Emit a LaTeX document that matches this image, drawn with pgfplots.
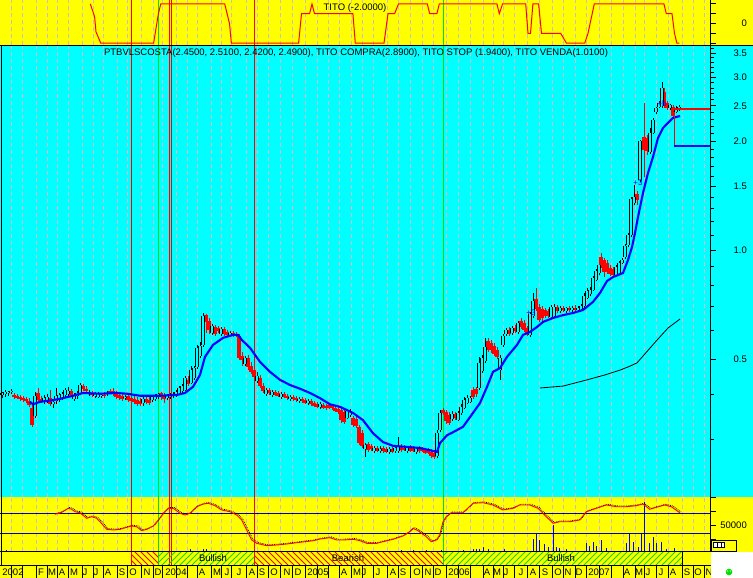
\documentclass[border=0pt]{standalone}
\usepackage{fontspec}
\setmainfont{Liberation Sans}
\usepackage{pgfplots}
\pgfplotsset{compat=1.18}

\definecolor{cy}{RGB}{0,255,255}
\definecolor{ye}{RGB}{255,255,0}
\definecolor{gr}{RGB}{0,225,0}
\definecolor{gridc}{RGB}{205,188,200}
\definecolor{navy}{RGB}{0,0,150}
\definecolor{mablue}{RGB}{0,0,255}
\newcommand\fs{\fontsize{9.5}{11}\selectfont}

% candle accumulator: x open high low close
\def\upw{}\def\dnw{}\def\upb{}\def\dnb{}
\newcommand\C[5]{%
  \ifdim #5pt<#2pt
    \xdef\dnw{\dnw(#1,#4)(#1,#3)(#1,nan)}%
    \xdef\dnb{\dnb(#1,#2)(#1,#5)(#1,nan)}%
  \else
    \xdef\upw{\upw(#1,#4)(#1,#3)(#1,nan)}%
    \xdef\upb{\upb(#1,#2)(#1,#5)(#1,nan)}%
  \fi}

\C{2}{0.398}{0.406}{0.390}{0.403}\C{5}{0.401}{0.411}{0.393}{0.406}
\C{8}{0.403}{0.408}{0.396}{0.406}\C{11}{0.406}{0.414}{0.401}{0.408}
\C{14}{0.398}{0.403}{0.388}{0.393}\C{17}{0.396}{0.401}{0.388}{0.390}
\C{20}{0.393}{0.398}{0.383}{0.388}\C{23}{0.390}{0.396}{0.380}{0.385}
\C{26}{0.388}{0.393}{0.378}{0.383}\C{29}{0.383}{0.390}{0.369}{0.373}
\C{32}{0.366}{0.375}{0.325}{0.329}\C{35}{0.348}{0.406}{0.344}{0.396}
\C{38}{0.403}{0.416}{0.383}{0.385}\C{41}{0.388}{0.396}{0.378}{0.383}
\C{44}{0.380}{0.398}{0.375}{0.390}\C{47}{0.385}{0.401}{0.378}{0.393}
\C{50}{0.390}{0.411}{0.371}{0.375}\C{53}{0.375}{0.385}{0.366}{0.380}
\C{56}{0.383}{0.416}{0.375}{0.396}\C{59}{0.385}{0.403}{0.380}{0.398}
\C{62}{0.393}{0.406}{0.385}{0.401}\C{65}{0.398}{0.416}{0.393}{0.411}
\C{68}{0.401}{0.419}{0.393}{0.408}\C{71}{0.408}{0.414}{0.393}{0.398}
\C{74}{0.388}{0.403}{0.383}{0.398}\C{77}{0.396}{0.408}{0.388}{0.403}
\C{80}{0.403}{0.430}{0.398}{0.424}\C{83}{0.421}{0.427}{0.408}{0.414}
\C{86}{0.414}{0.421}{0.406}{0.408}\C{89}{0.401}{0.411}{0.396}{0.406}
\C{92}{0.403}{0.408}{0.393}{0.398}\C{95}{0.396}{0.406}{0.390}{0.401}
\C{98}{0.393}{0.406}{0.390}{0.401}\C{101}{0.396}{0.403}{0.390}{0.398}
\C{104}{0.398}{0.406}{0.390}{0.396}\C{107}{0.401}{0.408}{0.396}{0.403}
\C{110}{0.408}{0.414}{0.401}{0.403}\C{113}{0.408}{0.416}{0.396}{0.401}
\C{116}{0.401}{0.408}{0.388}{0.393}\C{119}{0.398}{0.403}{0.385}{0.390}
\C{122}{0.396}{0.403}{0.383}{0.388}\C{125}{0.390}{0.398}{0.385}{0.393}
\C{128}{0.396}{0.401}{0.380}{0.385}\C{131}{0.390}{0.398}{0.378}{0.383}
\C{134}{0.388}{0.396}{0.375}{0.380}\C{137}{0.385}{0.393}{0.371}{0.375}
\C{140}{0.383}{0.390}{0.371}{0.375}\C{143}{0.378}{0.393}{0.371}{0.388}
\C{146}{0.388}{0.396}{0.375}{0.380}\C{149}{0.385}{0.393}{0.373}{0.378}
\C{152}{0.385}{0.398}{0.380}{0.396}\C{155}{0.388}{0.401}{0.383}{0.396}
\C{158}{0.396}{0.403}{0.388}{0.401}\C{161}{0.403}{0.406}{0.385}{0.393}
\C{164}{0.398}{0.403}{0.378}{0.388}\C{167}{0.390}{0.401}{0.385}{0.396}
\C{170}{0.393}{0.403}{0.388}{0.401}\C{173}{0.396}{0.406}{0.390}{0.401}
\C{176}{0.398}{0.411}{0.393}{0.406}\C{179}{0.403}{0.421}{0.398}{0.416}
\C{182}{0.408}{0.427}{0.403}{0.421}\C{185}{0.411}{0.449}{0.408}{0.443}
\C{188}{0.438}{0.449}{0.421}{0.427}\C{191}{0.430}{0.478}{0.427}{0.466}
\C{194}{0.443}{0.478}{0.438}{0.472}\C{197}{0.475}{0.547}{0.469}{0.537}
\C{200}{0.510}{0.557}{0.504}{0.543}\C{203}{0.547}{0.670}{0.540}{0.657}
\C{206}{0.661}{0.666}{0.590}{0.633}\C{209}{0.637}{0.649}{0.586}{0.601}
\C{212}{0.590}{0.625}{0.583}{0.617}\C{215}{0.613}{0.621}{0.579}{0.586}
\C{218}{0.609}{0.617}{0.590}{0.597}\C{221}{0.586}{0.613}{0.579}{0.605}
\C{224}{0.605}{0.613}{0.579}{0.586}\C{227}{0.594}{0.601}{0.579}{0.583}
\C{230}{0.583}{0.597}{0.575}{0.590}\C{233}{0.590}{0.597}{0.575}{0.583}
\C{236}{0.586}{0.594}{0.575}{0.579}\C{239}{0.579}{0.586}{0.497}{0.504}
\C{242}{0.510}{0.523}{0.478}{0.497}\C{245}{0.485}{0.510}{0.478}{0.504}
\C{248}{0.504}{0.513}{0.466}{0.475}\C{251}{0.478}{0.491}{0.455}{0.461}
\C{254}{0.466}{0.478}{0.438}{0.446}\C{257}{0.435}{0.461}{0.430}{0.449}
\C{260}{0.443}{0.452}{0.416}{0.421}\C{263}{0.421}{0.430}{0.403}{0.408}
\C{266}{0.401}{0.416}{0.396}{0.411}\C{269}{0.411}{0.416}{0.398}{0.403}
\C{272}{0.398}{0.411}{0.393}{0.406}\C{275}{0.406}{0.411}{0.396}{0.398}
\C{278}{0.403}{0.408}{0.393}{0.396}\C{281}{0.393}{0.406}{0.388}{0.401}
\C{284}{0.401}{0.406}{0.390}{0.393}\C{287}{0.396}{0.401}{0.385}{0.390}
\C{290}{0.388}{0.398}{0.383}{0.393}\C{293}{0.393}{0.398}{0.383}{0.388}
\C{296}{0.390}{0.396}{0.380}{0.385}\C{299}{0.383}{0.393}{0.378}{0.388}
\C{302}{0.388}{0.393}{0.378}{0.383}\C{305}{0.385}{0.390}{0.375}{0.378}
\C{308}{0.378}{0.388}{0.373}{0.383}\C{311}{0.383}{0.388}{0.371}{0.375}
\C{314}{0.378}{0.383}{0.369}{0.371}\C{317}{0.375}{0.380}{0.366}{0.369}
\C{320}{0.369}{0.380}{0.364}{0.375}\C{323}{0.373}{0.378}{0.364}{0.366}
\C{326}{0.371}{0.375}{0.362}{0.366}\C{329}{0.373}{0.378}{0.364}{0.366}
\C{332}{0.371}{0.375}{0.362}{0.366}\C{335}{0.366}{0.371}{0.357}{0.359}
\C{338}{0.364}{0.369}{0.353}{0.357}\C{341}{0.362}{0.366}{0.333}{0.339}
\C{344}{0.357}{0.362}{0.331}{0.335}\C{347}{0.344}{0.364}{0.342}{0.359}
\C{350}{0.350}{0.364}{0.346}{0.357}\C{353}{0.344}{0.348}{0.325}{0.329}
\C{356}{0.342}{0.346}{0.323}{0.327}\C{359}{0.325}{0.329}{0.289}{0.293}
\C{362}{0.312}{0.318}{0.284}{0.288}\C{365}{0.282}{0.293}{0.268}{0.289}
\C{368}{0.291}{0.295}{0.277}{0.280}\C{371}{0.288}{0.291}{0.279}{0.282}
\C{374}{0.279}{0.288}{0.275}{0.284}\C{377}{0.284}{0.288}{0.277}{0.279}
\C{380}{0.279}{0.288}{0.275}{0.282}\C{383}{0.284}{0.288}{0.275}{0.279}
\C{386}{0.282}{0.286}{0.275}{0.277}\C{389}{0.277}{0.286}{0.273}{0.282}
\C{392}{0.282}{0.286}{0.275}{0.277}\C{395}{0.279}{0.288}{0.275}{0.284}
\C{398}{0.279}{0.305}{0.275}{0.286}\C{401}{0.286}{0.291}{0.277}{0.280}
\C{404}{0.284}{0.289}{0.279}{0.280}\C{407}{0.279}{0.288}{0.275}{0.284}
\C{410}{0.284}{0.289}{0.277}{0.279}\C{413}{0.284}{0.288}{0.277}{0.279}
\C{416}{0.277}{0.286}{0.273}{0.282}\C{419}{0.282}{0.288}{0.275}{0.279}
\C{422}{0.282}{0.286}{0.277}{0.279}\C{425}{0.280}{0.284}{0.273}{0.275}
\C{428}{0.280}{0.284}{0.273}{0.275}\C{431}{0.277}{0.282}{0.266}{0.270}
\C{434}{0.275}{0.280}{0.265}{0.268}\C{437}{0.270}{0.318}{0.266}{0.312}
\C{440}{0.318}{0.362}{0.314}{0.355}\C{443}{0.362}{0.366}{0.350}{0.355}
\C{446}{0.357}{0.362}{0.331}{0.337}\C{449}{0.350}{0.357}{0.329}{0.333}
\C{452}{0.342}{0.359}{0.337}{0.353}\C{455}{0.353}{0.357}{0.339}{0.344}
\C{458}{0.339}{0.359}{0.337}{0.355}\C{461}{0.355}{0.375}{0.350}{0.369}
\C{464}{0.366}{0.393}{0.364}{0.385}\C{467}{0.378}{0.398}{0.375}{0.390}
\C{470}{0.380}{0.396}{0.378}{0.390}\C{473}{0.411}{0.419}{0.388}{0.393}
\C{476}{0.414}{0.419}{0.393}{0.401}\C{479}{0.416}{0.507}{0.411}{0.488}
\C{482}{0.463}{0.513}{0.458}{0.504}\C{485}{0.494}{0.572}{0.488}{0.540}
\C{488}{0.561}{0.572}{0.523}{0.530}\C{491}{0.554}{0.564}{0.520}{0.530}
\C{494}{0.543}{0.554}{0.510}{0.517}\C{497}{0.530}{0.540}{0.500}{0.507}
\C{500}{0.466}{0.513}{0.438}{0.504}\C{503}{0.547}{0.586}{0.540}{0.579}
\C{506}{0.586}{0.609}{0.579}{0.601}\C{509}{0.601}{0.613}{0.579}{0.586}
\C{512}{0.590}{0.617}{0.583}{0.609}\C{515}{0.609}{0.621}{0.590}{0.597}
\C{518}{0.594}{0.637}{0.586}{0.629}\C{521}{0.637}{0.649}{0.605}{0.613}
\C{524}{0.629}{0.641}{0.594}{0.601}\C{527}{0.609}{0.617}{0.579}{0.586}
\C{530}{0.583}{0.674}{0.575}{0.666}\C{533}{0.657}{0.761}{0.649}{0.723}
\C{536}{0.732}{0.785}{0.679}{0.688}\C{539}{0.696}{0.710}{0.633}{0.641}
\C{542}{0.688}{0.701}{0.625}{0.649}\C{545}{0.683}{0.692}{0.649}{0.657}
\C{548}{0.679}{0.688}{0.649}{0.657}\C{551}{0.653}{0.705}{0.645}{0.696}
\C{554}{0.657}{0.710}{0.649}{0.696}\C{557}{0.696}{0.705}{0.670}{0.679}
\C{560}{0.679}{0.701}{0.670}{0.692}\C{563}{0.692}{0.701}{0.674}{0.683}
\C{566}{0.679}{0.696}{0.670}{0.692}\C{569}{0.692}{0.701}{0.674}{0.683}
\C{572}{0.683}{0.701}{0.674}{0.692}\C{575}{0.692}{0.705}{0.679}{0.683}
\C{578}{0.683}{0.701}{0.674}{0.692}\C{581}{0.688}{0.710}{0.679}{0.701}
\C{584}{0.701}{0.761}{0.692}{0.746}\C{587}{0.737}{0.785}{0.732}{0.770}
\C{590}{0.756}{0.790}{0.746}{0.775}\C{593}{0.775}{0.848}{0.770}{0.837}
\C{596}{0.826}{0.886}{0.821}{0.875}\C{599}{0.864}{0.927}{0.853}{0.909}
\C{601}{0.956}{0.981}{0.892}{0.903}\C{604}{0.938}{0.950}{0.842}{0.870}
\C{607}{0.921}{0.938}{0.859}{0.870}\C{610}{0.892}{0.909}{0.848}{0.859}
\C{613}{0.886}{0.898}{0.842}{0.853}\C{616}{0.853}{0.909}{0.842}{0.898}
\C{619}{0.864}{0.933}{0.853}{0.921}\C{622}{0.921}{0.950}{0.915}{0.938}
\C{625}{0.956}{1.039}{0.944}{1.026}\C{628}{1.032}{1.114}{1.019}{1.100}
\C{631}{1.100}{1.401}{1.086}{1.383}\C{634}{1.348}{1.512}{1.331}{1.401}
\C{637}{1.428}{1.456}{1.331}{1.374}\C{640}{1.561}{2.013}{1.541}{2.000}
\C{644}{2.052}{2.547}{1.591}{1.889}\C{647}{2.039}{2.078}{1.830}{1.877}
\C{650}{1.865}{2.172}{1.842}{2.105}\C{653}{2.105}{2.315}{2.091}{2.286}
\C{656}{2.405}{2.483}{2.375}{2.467}\C{659}{2.483}{2.579}{2.467}{2.547}
\C{662}{2.499}{2.911}{2.467}{2.801}\C{664}{2.731}{2.801}{2.467}{2.499}
\C{667}{2.547}{2.579}{2.436}{2.467}\C{670}{2.467}{2.531}{2.436}{2.515}
\C{673}{2.483}{2.515}{2.315}{2.345}\C{676}{2.405}{2.499}{2.390}{2.467}
\C{679}{2.450}{2.510}{2.420}{2.490}

\pgfplotsset{
 panel/.style={scale only axis, width=710pt, xmin=0, xmax=710,
  axis y line*=right, axis x line*=bottom,
  x axis line style={draw=none},
  xtick={11.7,22.7,36.7,47.7,57.3,68.3,82.7,93.3,103.3,117.3,127.7,141.7,153.3,
    162.7,176.7,187.7,197.7,211.7,221.7,231.7,246,257,268,280,292,
    305,317,328,339,351,362,373,387,398,410,422,433,
    446,458,470,483,493,503,514,527,539,552,563,575,
    586,599,611,623,635,644,656,668,682,693,704},
  xticklabels={}, x tick style={draw=none}, scaled y ticks=false,
  xmajorgrids, major x grid style={gridc, dash pattern=on 4pt off 3pt, line width=0.9pt},
  y axis line style={line width=0.9pt,-}, tick align=outside,
  y tick style={black, line width=0.8pt},
  major tick length=6pt, minor tick length=4pt,
  yticklabel style={font=\fs, anchor=east, inner sep=0pt, xshift=31pt},
 }
}

\begin{document}
\begin{tikzpicture}[x=1pt,y=1pt]
\useasboundingbox (0,0) rectangle (753,-578);
\fill[ye] (0,0) rectangle (753,-578);
\fill[cy] (0,-46) rectangle (753,-497);
% signal lines
\foreach \xx/\sc in {131.5/red,158.5/gr,169.5/red,171.5/red,254.5/red,443.5/gr}
  \draw[color=\sc, line width=1pt] (\xx,0) -- (\xx,-565);
% band hatching
\begin{scope}
\clip (131.7,-551) rectangle (158.3,-565);
\foreach \k in {116,122,...,160} \draw[red, line width=0.8pt] (\k,-551) -- ++(14,-14);
\end{scope}
\begin{scope}
\clip (254,-551) rectangle (443,-565);
\foreach \k in {238,244,...,446} \draw[red, line width=0.8pt] (\k,-551) -- ++(14,-14);
\end{scope}
\begin{scope}
\clip (158.3,-551) rectangle (254,-565);
\foreach \k in {144,150,...,256} \draw[gr, line width=0.8pt] (\k,-565) -- ++(14,14);
\end{scope}
\begin{scope}
\clip (443,-551) rectangle (682,-565);
\foreach \k in {428,434,...,684} \draw[gr, line width=0.8pt] (\k,-565) -- ++(14,14);
\end{scope}

% ---- top panel: TITO
\begin{axis}[panel, at={(0pt,0pt)}, anchor=north west, height=45.5pt,
  ymin=-2.23, ymax=2.39, ytick={-2,-1,0,1,2}, yticklabels={{},{},0,{},{}}]
\addplot[red, line width=1pt] coordinates {
(90.3,2) (94.6,0.7) (96,-0.85) (100.8,-2) (153.6,-2) (158.4,1) (160.8,2)
(224.7,2) (229.5,0) (231.4,-2) (298.6,-2) (301.5,1) (309.6,1) (312,2) (314.5,1)
(352.9,1) (355.3,-2) (384,-2) (388,1) (394.6,1) (398.5,2) (427.3,2) (429.7,1)
(436.9,1) (439.3,2) (496.9,2) (499.3,1) (502.6,2) (525.7,2) (528,-1) (530.5,-1)
(532.9,2) (538.6,2) (541.5,-1) (560.7,-1) (566.5,-2) (584.7,-2) (588,-1) (594.3,2)
(663.9,2) (666.3,1) (672,1) (674.5,-1) (676.9,-2) (679.3,-2)};
\end{axis}

% ---- main price panel
\begin{axis}[panel, at={(0pt,-46pt)}, anchor=north west, height=451pt,
  ymode=log, ymin=0.208, ymax=3.658,
  ytick={0.5,1,1.5,2,2.5,3,3.5}, yticklabels={0.5,1.0,1.5,2.0,2.5,3.0,3.5},
  minor ytick={0.3,0.4,0.6,0.7,0.8,0.9,1.1,1.2,1.3,1.4,1.6,1.7,1.8,1.9,2.1,2.2,2.3,2.4,2.6,2.7,2.8,2.9,3.1,3.2,3.3,3.4,3.6},
  unbounded coords=jump]
\edef\tmp{\noexpand\addplot[red, line width=0.9pt] coordinates {\dnw};}\tmp
\edef\tmp{\noexpand\addplot[black, line width=0.9pt] coordinates {\upw};}\tmp
\edef\tmp{\noexpand\addplot[red, line width=3.2pt] coordinates {\dnb};}\tmp
\edef\tmp{\noexpand\addplot[black, line width=3.4pt] coordinates {\upb};}\tmp
\edef\tmp{\noexpand\addplot[cy, line width=1.4pt] coordinates {\upb};}\tmp
% long moving average
\addplot[black, line width=0.8pt] coordinates {
(540,0.416) (563,0.421) (587,0.438) (605,0.452) (620,0.466) (630,0.478) (637,0.488)
(645,0.517) (657,0.564) (668,0.609) (680,0.645)};
% short moving average
\addplot[mablue, line width=2.1pt] coordinates {
(30,0.381) (33,0.375) (40,0.381) (53,0.385) (63,0.390) (73,0.396) (83,0.403)
(100,0.401) (117,0.403) (127,0.401) (140,0.396) (160,0.396) (177,0.398) (185,0.403)
(193,0.419) (200,0.452) (205,0.507) (213,0.547) (223,0.572) (233,0.583) (238,0.583)
(242,0.564) (250,0.537) (260,0.491) (270,0.461) (280,0.438) (290,0.424) (300,0.414)
(310,0.403) (320,0.390) (330,0.375) (340,0.369) (353,0.355) (363,0.339) (373,0.312)
(383,0.295) (393,0.288) (407,0.286) (420,0.284) (430,0.280) (437,0.277) (440,0.293)
(447,0.308) (453,0.314) (463,0.325) (473,0.355) (480,0.378) (487,0.419) (493,0.461)
(500,0.472) (507,0.507) (517,0.547) (523,0.583) (530,0.594) (537,0.613) (543,0.633)
(553,0.649) (563,0.661) (573,0.670) (583,0.683) (593,0.719) (600,0.761) (607,0.821)
(613,0.842) (623,0.864) (628,0.938) (632,1.019) (635,1.114) (638,1.233) (643,1.437)
(648,1.632) (653,1.807) (658,2.039) (663,2.172) (668,2.243) (673,2.315) (680,2.345)};
% stops
\addplot[red, line width=2pt] coordinates {(671.7,2.445) (710,2.445)};
\addplot[red, line width=1pt] coordinates {(674,2.33) (674,1.94)};
\addplot[mablue, line width=2pt] coordinates {(674,1.94) (710,1.94)};
\node[mablue, font=\fontsize{8}{8}\selectfont, inner sep=0pt] at (axis cs:531,0.670) {+3};
\node[mablue, font=\fontsize{8}{8}\selectfont, inner sep=0pt] at (axis cs:638,1.53) {+3};
\node[mablue, font=\fontsize{8}{8}\selectfont, inner sep=0pt] at (axis cs:662,2.53) {+b};
\end{axis}

% ---- volume panel
\begin{axis}[panel, at={(0pt,-497pt)}, anchor=north west, height=54pt,
  ymin=3600, ymax=100000, ytick={25000,50000,75000,100000},
  yticklabels={{},50000,{},{}}]
\addplot[ycomb, mablue, line width=0.9pt] coordinates {
(6.7,5500) (190,6600) (203.3,7700) (206.7,7700) (401,5400) (413,5400) (426,5400)
(441,5400) (463,5400) (473,6600) (476.3,6600) (479.7,7700) (483,10200) (488,7700)
(504.7,6600) (533,24500) (536.3,35200) (539.7,23200) (544.7,16000) (548,11300)
(553,50000) (556.3,10200) (559.7,8400) (566.3,6600) (586.3,17300) (589.7,12500)
(593,20200) (596.3,12500) (601.3,23200) (606.3,8400) (626.3,18400) (629.7,35200)
(633,20200) (638,11300) (641.3,35200) (644.7,91600) (649.7,17300) (653,29100)
(656.3,17300) (661.3,20200) (666.3,6600) (674.7,8400)};
\end{axis}
\begin{axis}[scale only axis, width=710pt, height=54pt, at={(0pt,-497pt)}, anchor=north west,
  xmin=0, xmax=710, ymin=0, ymax=54, hide axis]
\addplot[navy, line width=0.9pt] coordinates {(0,38) (710,38)};
\addplot[navy, line width=0.9pt] coordinates {(0,18) (710,18)};
\addplot[black, line width=0.8pt, densely dotted, xshift=1.2pt, yshift=0.8pt] coordinates {
(55,36.7) (61.7,38.7) (68.3,42.7) (71.7,41.7) (75,39.3) (80,38.3) (86.7,32.7) (91.7,34.3)
(96.7,32.7) (100,29.3) (106.7,21.7) (113.3,21) (120,21.7) (126.7,23.7) (131.7,25) (136.7,24.3)
(141.7,20.3) (146.7,21.7) (153.3,25) (158.3,31) (163.3,37.7) (168.3,42.7) (173.3,42.7) (180,37.7)
(185,36) (190,37.7) (196.7,44.3) (203.3,47) (208.3,47.7) (215,45.3) (221.7,41) (230,39.3)
(236.7,36) (241.7,31) (246.7,21) (251.7,11) (256.7,7.7) (266.7,5.3) (276.7,6) (286.7,7)
(300,8.7) (313.3,10.3) (320,12) (330,13.3) (336.7,11) (343.3,11) (353.3,11.7) (360,10.3)
(366.7,7.7) (376.7,7.7) (383,9.3) (393,11.7) (403,15) (409.7,19.3) (413,22.7) (418,20.3)
(426.3,14.3) (431.3,9.3) (436.3,11) (439.7,16) (443,29.3) (446.3,34.3) (451.3,38.3) (463,38.3)
(473,47.7) (483,48.3) (493,46) (503,41) (513,42.7) (519.7,46) (529.7,46) (538,42.7)
(546.3,34.3) (553,27.7) (559.7,29.3) (569.7,29.3) (579.7,31) (586.3,39.3) (596.3,42.7) (606.3,46)
(616.3,44.3) (626.3,44.3) (636.3,45.3) (643,47) (649.7,41.7) (656.3,43.7) (664.7,46) (671.3,44.3)
(679.7,38.3)};
\addplot[red, line width=0.9pt] coordinates {
(55,36.7) (61.7,38.7) (68.3,42.7) (71.7,41.7) (75,39.3) (80,38.3) (86.7,32.7) (91.7,34.3)
(96.7,32.7) (100,29.3) (106.7,21.7) (113.3,21) (120,21.7) (126.7,23.7) (131.7,25) (136.7,24.3)
(141.7,20.3) (146.7,21.7) (153.3,25) (158.3,31) (163.3,37.7) (168.3,42.7) (173.3,42.7) (180,37.7)
(185,36) (190,37.7) (196.7,44.3) (203.3,47) (208.3,47.7) (215,45.3) (221.7,41) (230,39.3)
(236.7,36) (241.7,31) (246.7,21) (251.7,11) (256.7,7.7) (266.7,5.3) (276.7,6) (286.7,7)
(300,8.7) (313.3,10.3) (320,12) (330,13.3) (336.7,11) (343.3,11) (353.3,11.7) (360,10.3)
(366.7,7.7) (376.7,7.7) (383,9.3) (393,11.7) (403,15) (409.7,19.3) (413,22.7) (418,20.3)
(426.3,14.3) (431.3,9.3) (436.3,11) (439.7,16) (443,29.3) (446.3,34.3) (451.3,38.3) (463,38.3)
(473,47.7) (483,48.3) (493,46) (503,41) (513,42.7) (519.7,46) (529.7,46) (538,42.7)
(546.3,34.3) (553,27.7) (559.7,29.3) (569.7,29.3) (579.7,31) (586.3,39.3) (596.3,42.7) (606.3,46)
(616.3,44.3) (626.3,44.3) (636.3,45.3) (643,47) (649.7,41.7) (656.3,43.7) (664.7,46) (671.3,44.3)
(679.7,38.3)};
\end{axis}

% ---- month label strip
\begin{axis}[scale only axis, width=710pt, height=13pt, at={(0pt,-565pt)}, anchor=north west,
  xmin=0, xmax=710, ymin=0, ymax=1, axis line style={draw=none}, ytick=\empty,
  xtick={13,41,52,62,74,85,96,108,122,133,147,158,176,202,217,227,239,252,262,274,287,298,
    318,344,357,364,378,393,403,417,428,438,459,487,497,506,521,533,545,558,568,579,
    599,627,639,648,661,673,687,698,709},
  xticklabels={2002,F,M,A,M,J,J,A,S,O,N,D,2004,A,M,J,J,A,S,O,N,D,
    2005,A,M,J,J,A,S,O,N,D,2006,A,M,J,J,A,S,O,N,D,
    2007,A,M,J,J,A,S,O,N},
  major tick length=0pt, x tick style={draw=none},
  minor xtick={11.7,22.7,36.7,47.7,57.3,68.3,82.7,93.3,103.3,117.3,127.7,141.7,153.3,
    162.7,176.7,187.7,197.7,211.7,221.7,231.7,246,257,268,280,292,
    305,317,328,339,351,362,373,387,398,410,422,433,
    446,458,470,483,493,503,514,527,539,552,563,575,
    586,599,611,623,635,644,656,668,682,693,704},
  xminorgrids, minor grid style={black, line width=0.8pt}, minor tick length=0pt,
  xticklabel style={font=\fs, anchor=base, yshift=3pt, inner sep=0pt}]
\end{axis}

% ---- frame lines
\draw[black, line width=1pt] (0,-45.5) -- (753,-45.5);
\draw[black, line width=0.9pt] (0,-551) -- (711,-551);
\draw[black, line width=0.9pt] (0,-565) -- (711,-565);
\draw[black, line width=0.9pt] (1,-46) -- (1,-565);
\draw[black, line width=0.9pt] (682,-551) -- (682,-565);
% texts
\node[font=\fs, inner sep=0pt] at (356,-53.5) {PTBVLSCOSTA(2.4500, 2.5100, 2.4200, 2.4900), TITO COMPRA(2.8900), TITO STOP (1.9400), TITO VENDA(1.0100)};
\node[font=\fs, inner sep=0pt] at (355,-8.5) {TITO (-2.0000)};
\node[font=\fs, inner sep=0pt] at (213,-558) {Bullish};
\node[font=\fs, inner sep=0pt] at (348,-558) {Bearish};
\node[font=\fs, inner sep=0pt] at (561,-558) {Bullish};
% bottom-right widgets
\fill[white] (711,-551.5) rectangle (753,-578);
\draw[black, line width=0.8pt] (711.3,-540) rectangle (736.3,-551);
\fill[white] (713.7,-542.7) rectangle (724.7,-547.3);
\draw[black, line width=0.5pt] (713.7,-542.7) rectangle (724.7,-547.3);
\draw[black, line width=0.5pt] (717.3,-542.7) -- (717.3,-547.3) (721,-542.7) -- (721,-547.3);
\fill[gr] (729,-572) circle (3.3);
\fill[white] (727.8,-571) circle (0.6) (730.2,-571) circle (0.6);
\end{tikzpicture}
\end{document}
